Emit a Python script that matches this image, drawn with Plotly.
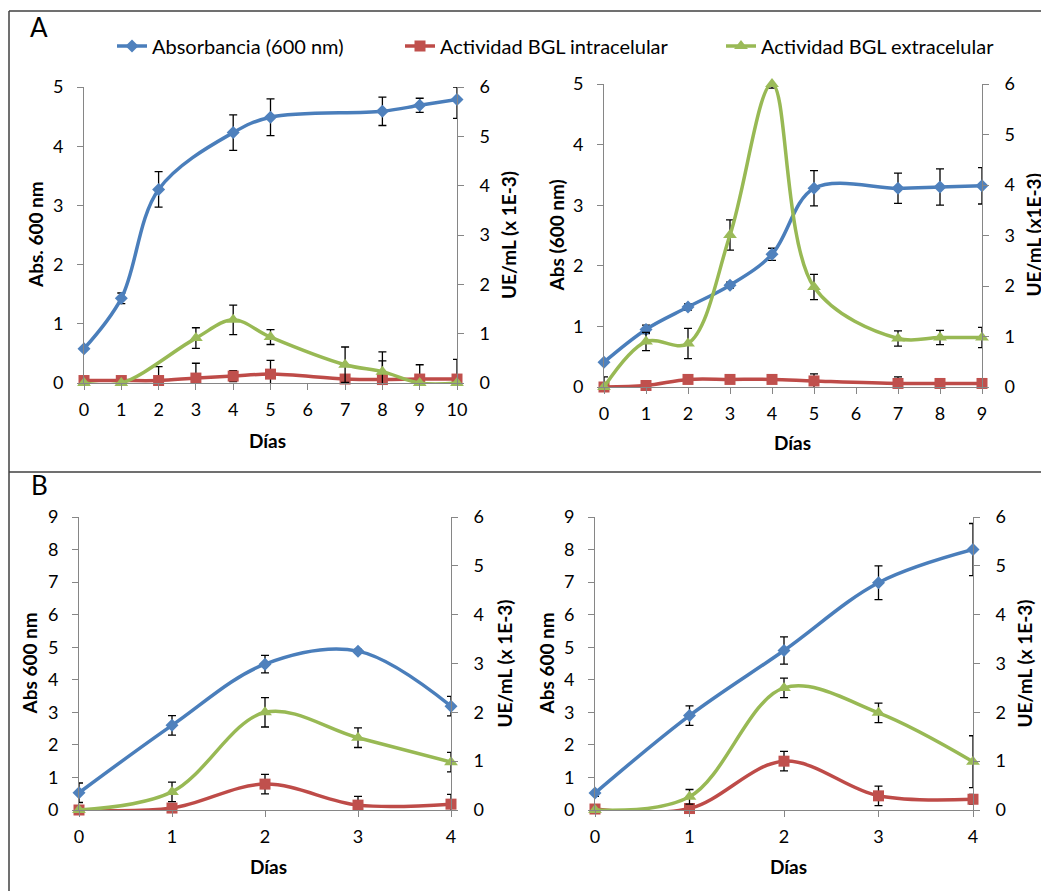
import plotly.graph_objects as go

# The page places the figure 8px from the top-left corner, so the figure is
# 8px smaller and reference pixel positions are shifted by OFF.
REF_W, REF_H = 1049, 891
OFF = 8
W, H = REF_W - OFF, REF_H - OFF


def fx(px):
    return (px - OFF) / W


def fy(py):
    return 1 - (py - OFF) / H


# ---------------- DATA ----------------
# Panel A (left)
aL_days_abs = [0, 1, 2, 4, 5, 8, 9, 10]
aL_abs = [0.58, 1.43, 3.27, 4.23, 4.49, 4.59, 4.69, 4.79]
aL_abs_err_plus = [0.0, 0.09, 0.30, 0.30, 0.31, 0.24, 0.12, 0.21]
aL_abs_err_minus = [0.0, 0.09, 0.30, 0.30, 0.31, 0.24, 0.12, 0.32]
aL_days_int = [0, 1, 2, 3, 4, 5, 7, 8, 9, 10]
aL_int = [0.05, 0.05, 0.05, 0.10, 0.14, 0.18, 0.08, 0.07, 0.08, 0.08]
aL_int_err = [0.0, 0.0, 0.28, 0.30, 0.11, 0.28, 0.0, 0.38, 0.29, 0.40]
aL_days_ext = [0, 1, 3, 4, 5, 7, 8, 9, 10]
aL_ext = [0.0, 0.0, 0.91, 1.28, 0.93, 0.37, 0.23, 0.0, 0.0]
aL_ext_err = [0.0, 0.0, 0.21, 0.30, 0.15, 0.36, 0.40, 0.0, 0.0]

# Panel A (right)
aR_days = [0, 1, 2, 3, 4, 5, 7, 8, 9]
aR_abs = [0.41, 0.95, 1.32, 1.68, 2.19, 3.28, 3.28, 3.30, 3.32]
aR_abs_err = [0.0, 0.07, 0.05, 0.05, 0.10, 0.29, 0.25, 0.30, 0.30]
aR_int = [0.0, 0.03, 0.15, 0.15, 0.15, 0.12, 0.07, 0.07, 0.07]
aR_int_err = [0.20, 0.0, 0.0, 0.0, 0.0, 0.14, 0.13, 0.0, 0.0]
aR_ext = [0.0, 0.90, 0.86, 3.01, 6.0, 1.98, 0.96, 0.98, 0.98]
aR_ext_err = [0.0, 0.18, 0.30, 0.30, 0.08, 0.25, 0.15, 0.14, 0.20]

# Panel B (left)
bL_days = [0, 1, 2, 3, 4]
bL_abs = [0.53, 2.60, 4.48, 4.88, 3.19]
bL_abs_err = [0.30, 0.30, 0.27, 0.05, 0.30]
bL_int = [0.0, 0.04, 0.53, 0.10, 0.12]
bL_int_err = [0.0, 0.0, 0.20, 0.18, 0.20]
bL_ext = [0.0, 0.37, 2.00, 1.48, 0.98]
bL_ext_err = [0.0, 0.20, 0.30, 0.20, 0.20]

# Panel B (right)
bR_days = [0, 1, 2, 3, 4]
bR_abs = [0.52, 2.90, 4.90, 6.98, 8.00]
bR_abs_err = [0.10, 0.30, 0.42, 0.52, 0.80]
bR_int = [0.02, 0.03, 1.00, 0.29, 0.22]
bR_int_err = [0.0, 0.0, 0.20, 0.20, 0.10]
bR_ext = [0.0, 0.27, 2.50, 1.99, 0.99]
bR_ext_err = [0.0, 0.15, 0.20, 0.20, 0.53]

series_names = ["Absorbancia (600 nm)", "Actividad BGL intracelular", "Actividad BGL extracelular"]
x_ticks_A_left = [0, 1, 2, 3, 4, 5, 6, 7, 8, 9, 10]
x_ticks_A_right = [0, 1, 2, 3, 4, 5, 6, 7, 8, 9]
x_ticks_B = [0, 1, 2, 3, 4]
left_titles = ["Abs. 600 nm", "Abs (600 nm)", "Abs 600 nm", "Abs 600 nm"]
right_titles = ["UE/mL (x 1E-3)", "UE/mL (x1E-3)", "UE/mL (x 1E-3)", "UE/mL (x 1E-3)"]
x_title = "Días"

# ---------------- STYLE ----------------
BLUE_L, BLUE_M = "#4A7EBB", "#4F81BD"
RED_L, RED_M = "#BE4B48", "#C0504D"
GREEN_L, GREEN_M = "#98B954", "#9BBB59"
AXIS_C = "#868686"
FONT = "Lato"

# pixel boxes in reference pixels: (x0, x1, ytop, ybottom)
boxes = [(84, 457, 87, 383), (604, 982, 84, 387), (79, 451, 517, 810), (595, 973, 517, 810)]
ranges_left = [[0, 5], [0, 5], [0, 9], [0, 9]]
xranges = [[0, 10], [0, 9], [0, 4], [0, 4]]
xticks = [x_ticks_A_left, x_ticks_A_right, x_ticks_B, x_ticks_B]
left_title_x = [35, 556, 29, 546]
right_title_x = [508, 1033, 504, 1024]
x_title_pos = [(267, 440), (792, 442), (268, 866), (788, 866)]
legend_x = [112, 400, 721]

panels = [
    (aL_days_abs, aL_abs, aL_abs_err_plus, aL_abs_err_minus,
     aL_days_int, aL_int, aL_int_err, aL_days_ext, aL_ext, aL_ext_err),
    (aR_days, aR_abs, aR_abs_err, aR_abs_err,
     aR_days, aR_int, aR_int_err, aR_days, aR_ext, aR_ext_err),
    (bL_days, bL_abs, bL_abs_err, bL_abs_err,
     bL_days, bL_int, bL_int_err, bL_days, bL_ext, bL_ext_err),
    (bR_days, bR_abs, bR_abs_err, bR_abs_err,
     bR_days, bR_int, bR_int_err, bR_days, bR_ext, bR_ext_err),
]

fig = go.Figure()
layout = {}


def err(arr, arrm=None):
    d = dict(type="data", array=arr, visible=True, color="black", thickness=1.3, width=4)
    if arrm is not None:
        d["symmetric"] = False
        d["arrayminus"] = arrm
    return d


for i, p in enumerate(panels):
    xn = "x" if i == 0 else f"x{i+1}"
    yl = "y" if i == 0 else f"y{2*i+1}"
    yr = f"y{2*i+2}"
    xk = "xaxis" if i == 0 else f"xaxis{i+1}"
    ylk = "yaxis" if i == 0 else f"yaxis{2*i+1}"
    yrk = f"yaxis{2*i+2}"
    x0, x1, yt, yb = boxes[i]
    dx = [fx(x0), fx(x1)]
    dy = [fy(yb), fy(yt)]
    (dabs, vabs, eabs_p, eabs_m, dint, vint, eint, dext, vext, eext) = p
    show = i == 0
    fig.add_trace(go.Scatter(
        x=dabs, y=vabs, xaxis=xn, yaxis=yl, name=series_names[0], legend="legend",
        mode="lines+markers", line=dict(color=BLUE_L, width=3.5, shape="spline", smoothing=1.0),
        marker=dict(symbol="diamond", size=10, color=BLUE_M),
        error_y=err(eabs_p, eabs_m), showlegend=show, cliponaxis=False))
    fig.add_trace(go.Scatter(
        x=dint, y=vint, xaxis=xn, yaxis=yr, name=series_names[1], legend="legend2",
        mode="lines+markers", line=dict(color=RED_L, width=3.5, shape="spline", smoothing=1.0),
        marker=dict(symbol="square", size=11, color=RED_M),
        error_y=err(eint), showlegend=show, cliponaxis=False))
    fig.add_trace(go.Scatter(
        x=dext, y=vext, xaxis=xn, yaxis=yr, name=series_names[2], legend="legend3",
        mode="lines+markers", line=dict(color=GREEN_L, width=3.5, shape="spline", smoothing=1.0),
        marker=dict(symbol="triangle-up", size=12, color=GREEN_M),
        error_y=err(eext), showlegend=show, cliponaxis=False))

    tickfont = dict(family=FONT, size=18, color="black")
    layout[xk] = dict(domain=dx, anchor=yl, range=xranges[i], tickvals=xticks[i],
                      showline=True, linecolor=AXIS_C, linewidth=1, ticks="outside",
                      tickcolor=AXIS_C, ticklen=6, showgrid=False, zeroline=False,
                      tickfont=tickfont, ticklabelstandoff=4, automargin=False)
    layout[ylk] = dict(domain=dy, anchor=xn, range=ranges_left[i], dtick=1,
                       showline=True, linecolor=AXIS_C, linewidth=1, ticks="outside",
                       tickcolor=AXIS_C, ticklen=6, showgrid=False, zeroline=False,
                       tickfont=tickfont, ticklabelstandoff=10, automargin=False)
    layout[yrk] = dict(overlaying=yl, anchor=xn, side="right", range=[0, 6], dtick=1,
                       showline=True, linecolor=AXIS_C, linewidth=1, ticks="outside",
                       tickcolor=AXIS_C, ticklen=6, showgrid=False, zeroline=False,
                       tickfont=tickfont, ticklabelstandoff=12, automargin=False)

annotations = []
title_font = dict(family=FONT, size=19, color="black", weight="bold")
for i in range(4):
    x0, x1, yt, yb = boxes[i]
    ymid = fy((yt + yb) / 2)
    annotations.append(dict(text=left_titles[i], x=fx(left_title_x[i]), y=ymid, xref="paper", yref="paper",
                            textangle=-90, showarrow=False, xanchor="center", yanchor="middle", font=title_font))
    annotations.append(dict(text=right_titles[i], x=fx(right_title_x[i]), y=ymid, xref="paper", yref="paper",
                            textangle=-90, showarrow=False, xanchor="center", yanchor="middle", font=title_font))
    tx, ty = x_title_pos[i]
    annotations.append(dict(text=x_title, x=fx(tx), y=fy(ty), xref="paper", yref="paper",
                            showarrow=False, xanchor="center", yanchor="middle", font=title_font))

annotations.append(dict(text="A", x=fx(28), y=fy(27), xref="paper", yref="paper", showarrow=False,
                        xanchor="left", yanchor="middle", font=dict(family=FONT, size=26, color="black")))
annotations.append(dict(text="B", x=fx(29), y=fy(485), xref="paper", yref="paper", showarrow=False,
                        xanchor="left", yanchor="middle", font=dict(family=FONT, size=26, color="black")))

FRAME = "#404040"
shapes = [
    dict(type="line", xref="paper", yref="paper", x0=fx(9), x1=1, y0=fy(11), y1=fy(11),
         line=dict(color=FRAME, width=1.5)),
    dict(type="line", xref="paper", yref="paper", x0=fx(9), x1=fx(9), y0=0, y1=fy(11),
         line=dict(color=FRAME, width=1.5)),
    dict(type="line", xref="paper", yref="paper", x0=fx(9), x1=1, y0=fy(472), y1=fy(472),
         line=dict(color=FRAME, width=1.5)),
]

legend_font = dict(family=FONT, size=20, color="black")
legends = {}
for k, lx in enumerate(legend_x):
    key = "legend" if k == 0 else f"legend{k+1}"
    legends[key] = dict(orientation="h", x=fx(lx), y=fy(46), xanchor="left", yanchor="middle",
                        font=legend_font, bgcolor="rgba(0,0,0,0)", borderwidth=0)

fig.update_layout(
    width=W, height=H, autosize=False,
    margin=dict(l=0, r=0, t=0, b=0, pad=0, autoexpand=False),
    paper_bgcolor="white", plot_bgcolor="white",
    annotations=annotations, shapes=shapes,
    showlegend=True,
    **legends,
    **layout,
)

fig.write_html("out.html")
